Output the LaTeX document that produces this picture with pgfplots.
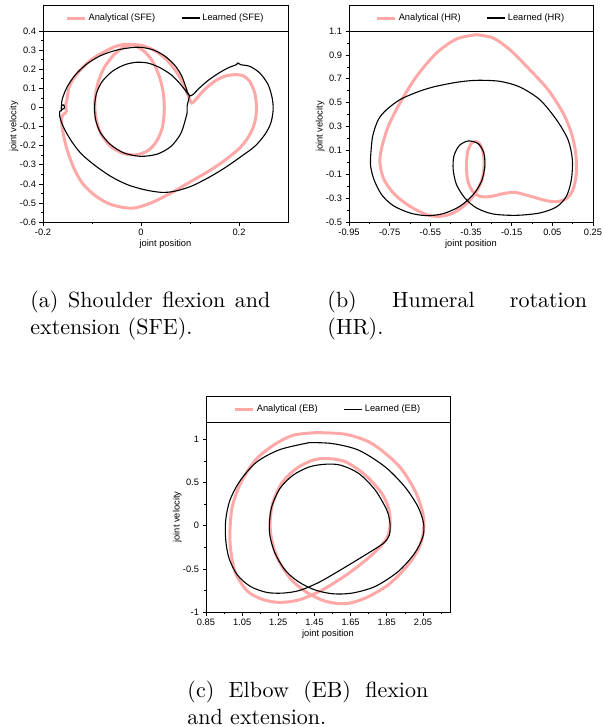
\documentclass[border=0pt]{standalone}
\usepackage{fontspec}
\newfontfamily\arial{Liberation Sans}
\usepackage{pgfplots}
\pgfplotsset{compat=1.18}
\definecolor{anapink}{RGB}{255,168,168}
\newcommand{\smallsans}{\arial\fontsize{9.3}{11}\selectfont}

\pgfplotsset{
  phase/.style={
    scale only axis,
    axis line style={line width=0.8pt},
    tick align=outside, tick pos=left,
    major tick length=3.5pt, minor tick length=2pt,
    tick style={black, line width=0.6pt},
    tick label style={font=\smallsans},
    xlabel={joint position}, ylabel={joint velocity},
    every axis x label/.style={at={(axis description cs:0.5,-0.115)}, anchor=center, font=\smallsans},
    every axis y label/.style={at={(axis description cs:-0.118,0.5)}, rotate=90, anchor=center, font=\smallsans},
    legend style={font=\smallsans, draw=none, fill=none,
      at={(axis description cs:0.5,1.068)}, anchor=center, legend columns=2,
      /tikz/every even column/.append style={column sep=24pt}},
    legend image code/.code={\draw[##1] (0pt,0pt) -- (18pt,0pt);},
  },
  ana/.style={anapink, line width=3pt, smooth, tension=0.5},
  lrn/.style={black, line width=1.1pt, smooth, tension=0.5},
}

\begin{document}
\tolerance=10000 \hbadness=10000
\begin{tikzpicture}
\path[use as bounding box] (0pt,0pt) rectangle (602pt,-727pt);

% (a) SFE
\draw[line width=0.7pt] (43pt,-31pt) rectangle (288pt,-5pt);
\begin{axis}[phase, at={(43pt,-222pt)}, anchor=south west,
  width=245pt, height=191pt,
  xmin=-0.2, xmax=0.3, ymin=-0.6, ymax=0.4,
  xtick={-0.2,0,0.2}, xticklabels={-0.2,0,0.2},
  minor xtick={-0.1,0.1},
  ytick={-0.6,-0.5,-0.4,-0.3,-0.2,-0.1,0,0.1,0.2,0.3,0.4},
  yticklabels={-0.6,-0.5,-0.4,-0.3,-0.2,-0.1,0,0.1,0.2,0.3,0.4},
  minor ytick={-0.55,-0.45,-0.35,-0.25,-0.15,-0.05,0.05,0.15,0.25,0.35}]
\addplot[ana] coordinates {
(-0.1521,-0.0258) (-0.1535,0.0143) (-0.1508,0.044) (-0.1473,0.1016) (-0.1371,0.1539)
(-0.12,0.2063) (-0.0995,0.2534) (-0.0756,0.29) (-0.0516,0.3197) (-0.0311,0.3302)
(-0.014,0.325) (0.0065,0.2935) (0.0236,0.2412) (0.0373,0.1627) (0.0455,0.0754)
(0.0475,-0.0119) (0.0441,-0.0991) (0.0338,-0.1689) (0.0168,-0.2213) (-0.0072,-0.2474)
(-0.0345,-0.2422) (-0.0619,-0.2038) (-0.0824,-0.134) (-0.0926,-0.0468) (-0.094,0.0405)
(-0.0879,0.1277) (-0.0756,0.2063) (-0.055,0.2763) (-0.0345,0.3162) (-0.0174,0.3284)
(0.0031,0.3232) (0.027,0.2988) (0.0509,0.2534) (0.0715,0.1888) (0.0872,0.119)
(0.0968,0.0579) (0.1036,0.023) (0.1125,0.044) (0.1296,0.0928) (0.1501,0.1365)
(0.1706,0.1627) (0.1911,0.1714) (0.2082,0.1661) (0.2219,0.1365) (0.2322,0.0754)
(0.2355,0.0056) (0.2335,-0.0642) (0.2239,-0.134) (0.2048,-0.2038) (0.1774,-0.2649)
(0.1432,-0.326) (0.1022,-0.3871) (0.0612,-0.4482) (0.0202,-0.5005) (-0.014,-0.5267)
(-0.0414,-0.5214) (-0.0687,-0.5005) (-0.0961,-0.4569) (-0.12,-0.3957) (-0.1371,-0.3173)
(-0.1508,-0.2213) (-0.159,-0.134) (-0.1624,-0.0642) (-0.159,-0.038) (-0.1521,-0.0258)
};
\addplot[lrn] coordinates {
(-0.1658,-0.0206) (-0.161,-0.0119) (-0.1562,-0.0031) (-0.1576,0.0126) (-0.1624,0.0091)
(-0.1624,-0.0119) (-0.161,0.0405) (-0.1508,0.1068) (-0.1337,0.1714) (-0.1097,0.229)
(-0.0824,0.2709) (-0.0516,0.2988) (-0.0209,0.3127) (-0.0003,0.3145) (0.0236,0.3023)
(0.0475,0.2709) (0.068,0.2237) (0.0817,0.1714) (0.0899,0.119) (0.0954,0.0754)
(0.0988,0.0614) (0.094,0.0056) (0.094,-0.0293) (0.0817,-0.134) (0.0612,-0.2038)
(0.0338,-0.244) (-0.0003,-0.2562) (-0.0345,-0.2387) (-0.0619,-0.1951) (-0.0824,-0.134)
(-0.0926,-0.0642) (-0.0947,0.0056) (-0.0906,0.0754) (-0.079,0.1365) (-0.0585,0.1888)
(-0.0345,0.222) (-0.0106,0.236) (0.0133,0.2325) (0.0373,0.2098) (0.0612,0.1714)
(0.0783,0.1277) (0.092,0.0841) (0.0988,0.0614) (0.1057,0.0667) (0.1193,0.1016)
(0.1364,0.14) (0.1569,0.1766) (0.1774,0.2063) (0.1945,0.2237) (0.198,0.2325)
(0.2034,0.2237) (0.2219,0.215) (0.2424,0.1801) (0.2595,0.119) (0.2677,0.0492)
(0.2697,-0.0119) (0.265,-0.0817) (0.2526,-0.1428) (0.2322,-0.2038) (0.2048,-0.2562)
(0.1706,-0.3173) (0.1364,-0.3696) (0.1022,-0.4132) (0.068,-0.4394) (0.0407,-0.4447)
(0.0065,-0.4307) (-0.0277,-0.4045) (-0.0619,-0.3609) (-0.0961,-0.2998) (-0.1234,-0.2387)
(-0.1439,-0.1689) (-0.159,-0.0991) (-0.1658,-0.0468) (-0.1658,-0.0206)
};
\legend{Analytical (SFE),Learned (SFE)}
\end{axis}

% (b) HR
\draw[line width=0.7pt] (349pt,-31pt) rectangle (593pt,-5pt);
\begin{axis}[phase, at={(349pt,-222pt)}, anchor=south west,
  width=244pt, height=191pt,
  xmin=-0.95, xmax=0.25, ymin=-0.5, ymax=1.1,
  xtick={-0.95,-0.75,-0.55,-0.35,-0.15,0.05,0.25},
  xticklabels={-0.95,-0.75,-0.55,-0.35,-0.15,0.05,0.25},
  minor xtick={-0.85,-0.65,-0.45,-0.25,-0.05,0.15},
  ytick={-0.5,-0.3,-0.1,0.1,0.3,0.5,0.7,0.9,1.1},
  yticklabels={-0.5,-0.3,-0.1,0.1,0.3,0.5,0.7,0.9,1.1},
  minor ytick={-0.4,-0.2,0,0.2,0.4,0.6,0.8,1.0}]
\addplot[ana] coordinates {
(-0.323,1.0693) (-0.2412,1.0414) (-0.1593,0.9437) (-0.0611,0.7761) (0.0289,0.6086)
(0.1026,0.4132) (0.1435,0.2457) (0.1648,0.0781) (0.1681,-0.0895) (0.1517,-0.2291)
(0.119,-0.3045) (0.0699,-0.3297) (0.0207,-0.3213) (-0.0447,-0.2904) (-0.1102,-0.2597)
(-0.1429,-0.2514) (-0.1921,-0.2625) (-0.2575,-0.2876) (-0.3067,-0.2848) (-0.3427,-0.243)
(-0.3672,-0.1453) (-0.3721,-0.0057) (-0.3639,0.106) (-0.3427,0.1675) (-0.3148,0.1675)
(-0.2936,0.106) (-0.2854,-0.0057) (-0.2936,-0.1313) (-0.323,-0.243) (-0.3721,-0.3464)
(-0.4376,-0.4244) (-0.5031,-0.4524) (-0.5686,-0.4384) (-0.6504,-0.3686) (-0.7241,-0.2709)
(-0.7781,-0.1453) (-0.7978,-0.0057) (-0.7896,0.12) (-0.7568,0.3015) (-0.6995,0.4969)
(-0.6177,0.7203) (-0.5195,0.9157) (-0.4213,1.033) (-0.323,1.0693)
};
\addplot[lrn] coordinates {
(-0.8436,0.0502) (-0.8338,0.2177) (-0.806,0.3573) (-0.765,0.4411) (-0.6995,0.5249)
(-0.6177,0.5863) (-0.5358,0.631) (-0.4213,0.67) (-0.323,0.6868) (-0.2084,0.6784)
(-0.1102,0.631) (-0.012,0.5249) (0.0699,0.3573) (0.1271,0.1898) (0.1484,0.0223)
(0.1435,-0.1453) (0.119,-0.2848) (0.0699,-0.3742) (-0.012,-0.4244) (-0.1266,-0.444)
(-0.2412,-0.4328) (-0.323,-0.3826) (-0.3803,-0.2988) (-0.4213,-0.1871) (-0.4376,-0.0615)
(-0.4343,0.0502) (-0.4081,0.1396) (-0.3639,0.1786) (-0.3148,0.1563) (-0.287,0.0781)
(-0.2821,-0.0336) (-0.2985,-0.1592) (-0.3394,-0.2709) (-0.4049,-0.3686) (-0.4867,-0.43)
(-0.5686,-0.4468) (-0.6504,-0.4244) (-0.7323,-0.3630) (-0.7896,-0.2709) (-0.8272,-0.1453)
(-0.8436,-0.0336) (-0.8436,0.0502)
};
\legend{Analytical (HR),Learned (HR)}
\end{axis}

% (c) EB
\draw[line width=0.7pt] (206pt,-422pt) rectangle (450pt,-396pt);
\begin{axis}[phase, at={(206pt,-612pt)}, anchor=south west,
  width=244pt, height=190pt,
  xmin=0.85, xmax=2.2, ymin=-1, ymax=1.2,
  xtick={0.85,1.05,1.25,1.45,1.65,1.85,2.05},
  xticklabels={0.85,1.05,1.25,1.45,1.65,1.85,2.05},
  minor xtick={0.95,1.15,1.35,1.55,1.75,1.95,2.15},
  ytick={-1,-0.5,0,0.5,1}, yticklabels={-1,-0.5,0,0.5,1},
  minor ytick={-0.75,-0.25,0.25,0.75}]
\addplot[ana] coordinates {
(1.4591,1.0769) (1.6227,1.0577) (1.7681,0.95) (1.9136,0.7) (2.0045,0.4115)
(2.05,0.1423) (2.0536,-0.05) (2.0318,-0.2423) (1.9681,-0.4538) (1.859,-0.6846)
(1.7318,-0.8385) (1.6227,-0.9038) (1.5136,-0.8769) (1.4136,-0.7808) (1.3227,-0.6269)
(1.25,-0.3962) (1.2136,-0.1654) (1.2045,0.0269) (1.2191,0.2577) (1.2681,0.4885)
(1.35,0.6615) (1.4409,0.7577) (1.5227,0.7769) (1.6227,0.7385) (1.7318,0.5846)
(1.8227,0.3731) (1.8626,0.1808) (1.8681,-0.0115) (1.8445,-0.1654) (1.7681,-0.3385)
(1.6409,-0.55) (1.4954,-0.7423) (1.3681,-0.8577) (1.2591,-0.8885) (1.1682,-0.8577)
(1.0809,-0.7615) (1.0136,-0.55) (0.9864,-0.2808) (0.9827,-0.05) (0.9954,0.2192)
(1.0409,0.4885) (1.1227,0.7577) (1.2227,0.9308) (1.3318,1.0462) (1.4591,1.0769)
};
\addplot[lrn] coordinates {
(1.4227,0.9615) (1.55,0.95) (1.6954,0.8731) (1.8409,0.6808) (1.9499,0.45)
(2.0227,0.2192) (2.0536,0.0269) (2.05,-0.1269) (2.0045,-0.3192) (1.9136,-0.5308)
(1.7863,-0.7038) (1.659,-0.7808) (1.55,-0.7885) (1.45,-0.7423) (1.359,-0.6462)
(1.2863,-0.5115) (1.2318,-0.3192) (1.2045,-0.1269) (1.2009,0.0269) (1.2136,0.2192)
(1.2591,0.4308) (1.3318,0.5846) (1.4227,0.6808) (1.5136,0.7115) (1.5954,0.7)
(1.6954,0.6038) (1.7863,0.4115) (1.85,0.1808) (1.8681,0.0269) (1.8645,-0.1077)
(1.8318,-0.2038) (1.7318,-0.3385) (1.6045,-0.5) (1.4772,-0.6538) (1.3681,-0.75)
(1.2772,-0.7808) (1.1863,-0.7731) (1.0954,-0.7038) (1.0227,-0.5692) (0.9773,-0.3769)
(0.9591,-0.1654) (0.9591,0.0654) (0.9827,0.2962) (1.0409,0.5269) (1.1318,0.7385)
(1.2591,0.8808) (1.4227,0.9615)
};
\legend{Analytical (EB),Learned (EB)}
\end{axis}

% captions
\node[anchor=base west, inner sep=0pt, text width=109.1pt, align=justify, scale=2.2]
  at (30pt,-307.7pt) {(a) Shoulder flexion and extension (SFE).};
\node[anchor=base west, inner sep=0pt, text width=118pt, align=justify, scale=2.2]
  at (327pt,-307.7pt) {(b) Humeral rotation\linebreak (HR).};
\node[anchor=base west, inner sep=0pt, text width=109.5pt, align=justify, scale=2.2]
  at (187pt,-697.7pt) {(c) Elbow (EB) flexion and extension.};
\end{tikzpicture}
\end{document}
